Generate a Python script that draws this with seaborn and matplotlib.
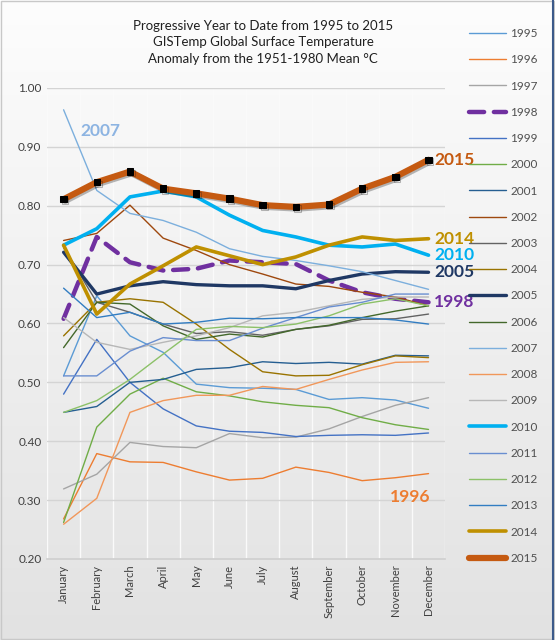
import numpy as np
import pandas as pd
import matplotlib
matplotlib.use("Agg")
import matplotlib.pyplot as plt
import matplotlib.patheffects as pe
from matplotlib.colors import LinearSegmentedColormap
from matplotlib.lines import Line2D
import seaborn as sns

# Year-to-date mean anomaly (deg C)
months = ['January', 'February', 'March', 'April', 'May', 'June', 'July',
          'August', 'September', 'October', 'November', 'December']

y1995 = [0.511, 0.647, 0.579, 0.551, 0.497, 0.491, 0.490, 0.488, 0.471, 0.474, 0.470, 0.456]
y1996 = [0.268, 0.379, 0.365, 0.364, 0.348, 0.334, 0.337, 0.356, 0.347, 0.333, 0.338, 0.345]
y1997 = [0.319, 0.344, 0.398, 0.391, 0.389, 0.413, 0.406, 0.407, 0.421, 0.442, 0.461, 0.474]
y1998 = [0.608, 0.747, 0.704, 0.690, 0.693, 0.707, 0.704, 0.701, 0.673, 0.653, 0.642, 0.636]
y1999 = [0.480, 0.573, 0.500, 0.455, 0.426, 0.417, 0.415, 0.408, 0.410, 0.411, 0.410, 0.414]
y2000 = [0.262, 0.424, 0.480, 0.507, 0.484, 0.477, 0.467, 0.461, 0.457, 0.440, 0.428, 0.420]
y2001 = [0.449, 0.459, 0.500, 0.505, 0.522, 0.525, 0.535, 0.532, 0.534, 0.531, 0.546, 0.545]
y2002 = [0.741, 0.753, 0.801, 0.745, 0.724, 0.700, 0.684, 0.667, 0.663, 0.653, 0.645, 0.630]
y2003 = [0.729, 0.636, 0.619, 0.599, 0.583, 0.586, 0.580, 0.590, 0.596, 0.607, 0.608, 0.616]
y2004 = [0.579, 0.636, 0.642, 0.636, 0.599, 0.556, 0.518, 0.511, 0.512, 0.530, 0.545, 0.542]
y2005 = [0.721, 0.650, 0.664, 0.671, 0.666, 0.664, 0.664, 0.659, 0.673, 0.684, 0.688, 0.687]
y2006 = [0.559, 0.636, 0.633, 0.596, 0.573, 0.582, 0.577, 0.590, 0.597, 0.610, 0.621, 0.630]
y2007 = [0.963, 0.826, 0.787, 0.775, 0.755, 0.727, 0.714, 0.707, 0.698, 0.688, 0.673, 0.658]
y2008 = [0.259, 0.303, 0.449, 0.469, 0.478, 0.478, 0.493, 0.488, 0.505, 0.521, 0.534, 0.535]
y2009 = [0.610, 0.568, 0.556, 0.568, 0.579, 0.593, 0.613, 0.619, 0.630, 0.641, 0.645, 0.645]
y2010 = [0.733, 0.761, 0.815, 0.825, 0.815, 0.784, 0.758, 0.747, 0.733, 0.730, 0.735, 0.716]
y2011 = [0.511, 0.511, 0.553, 0.576, 0.571, 0.571, 0.592, 0.610, 0.628, 0.636, 0.650, 0.650]
y2012 = [0.449, 0.469, 0.505, 0.548, 0.590, 0.595, 0.593, 0.599, 0.613, 0.633, 0.642, 0.630]
y2013 = [0.660, 0.610, 0.619, 0.599, 0.602, 0.609, 0.608, 0.610, 0.610, 0.610, 0.606, 0.599]
y2014 = [0.733, 0.616, 0.667, 0.698, 0.730, 0.715, 0.700, 0.713, 0.733, 0.747, 0.741, 0.744]
y2015 = [0.811, 0.840, 0.858, 0.829, 0.821, 0.812, 0.801, 0.798, 0.802, 0.829, 0.849, 0.878]

years = list(range(1995, 2016))
series = [y1995, y1996, y1997, y1998, y1999, y2000, y2001, y2002, y2003, y2004, y2005,
          y2006, y2007, y2008, y2009, y2010, y2011, y2012, y2013, y2014, y2015]

colors = ['#5B9BD5', '#ED7D31', '#A5A5A5', '#7030A0', '#4472C4', '#70AD47', '#255E91',
          '#9E480E', '#636363', '#997300', '#1F3864', '#43682B', '#7CAFDD', '#F1975A',
          '#B7B7B7', '#00B0F0', '#698ED0', '#8CC168', '#327DC2', '#BF9000', '#C55A11']

# line widths (pt) - a few years are highlighted
widths = {1998: 3.2, 2005: 2.4, 2010: 2.6, 2014: 2.6, 2015: 4.5}
dash_1998 = (3.4, 2.2)

rows = []
for yr, vals in zip(years, series):
    for i, v in enumerate(vals):
        rows.append({'year': yr, 'pos': i, 'value': v})
df = pd.DataFrame(rows)

sns.set_theme(style="white")
plt.rcParams['font.family'] = ['Lato', 'DejaVu Sans']

fig = plt.figure(figsize=(5.55, 6.4), dpi=100)

# soft vertical gradient background like the Excel chart area
bg = fig.add_axes([0, 0, 1, 1], zorder=-10)
grad = np.linspace(0, 1, 256).reshape(-1, 1)
cmap = LinearSegmentedColormap.from_list('bg', ['#FDFDFD', '#E2E2E2'])
bg.imshow(grad, aspect='auto', cmap=cmap, extent=[0, 1, 0, 1])
bg.axis('off')

ax = fig.add_axes([0.0847, 0.1266, 0.7173, 0.7359])
ax.set_facecolor('none')

for yr, col in zip(years, colors):
    sub = df[df['year'] == yr]
    lw = widths.get(yr, 1.0)
    kw = {}
    if yr == 1998:
        kw = dict(dashes=dash_1998, dash_capstyle='round')
    if yr == 2015:
        kw = dict(marker='s', markersize=4.6, markerfacecolor='black',
                  markeredgecolor='black',
                  path_effects=[pe.SimpleLineShadow(offset=(1.2, -1.2), alpha=0.3), pe.Normal()])
    sns.lineplot(data=sub, x='pos', y='value', ax=ax, color=col, linewidth=lw,
                 legend=False, **kw)

ax.set_xlim(-0.5, 11.5)
ax.set_ylim(0.2, 1.0)
ax.set_xticks(range(12))
ax.set_xticklabels(months, rotation=90, fontsize=8, color='#404040')
ax.set_xticks(np.arange(-0.5, 12, 0.5), minor=True)
ax.set_yticks(np.arange(0.2, 1.01, 0.1))
ax.set_yticklabels([f'{v:.2f}' for v in np.arange(0.2, 1.01, 0.1)], fontsize=8.5, color='#404040')
ax.tick_params(axis='both', which='both', length=0, pad=4)
ax.set_xlabel('')
ax.set_ylabel('')
ax.grid(axis='x', which='minor', color='#FAFAFA', linewidth=1.0)
ax.grid(axis='y', which='major', color='#D4D4D4', linewidth=1.0)
ax.set_axisbelow(True)
for s in ['top', 'right', 'left']:
    ax.spines[s].set_visible(False)
ax.spines['bottom'].set_color('#D0D0D0')

# year labels at the end of highlighted lines
end_labels = {2015: '#C55A11', 2014: '#BF9000', 2010: '#00B0F0', 2005: '#1F3864', 1998: '#7030A0'}
for yr, col in end_labels.items():
    vals = series[years.index(yr)]
    ax.annotate(str(yr), xy=(11, vals[-1]), xytext=(4, 0), textcoords='offset points',
                va='center', ha='left', fontsize=12.5, fontweight='bold', color=col,
                annotation_clip=False)
ax.text(1.1, 0.927, '2007', fontsize=12.5, fontweight='bold', color='#8DB4E2',
        ha='center', va='center')
ax.text(10.44, 0.305, '1996', fontsize=12.5, fontweight='bold', color='#ED7D31',
        ha='center', va='center')

fig.text(0.474, 0.934, 'Progressive Year to Date from 1995 to 2015\n'
         'GISTemp Global Surface Temperature\n'
         'Anomaly from the 1951-1980 Mean °C',
         ha='center', va='center', fontsize=9.5, color='#202020', linespacing=1.45)

handles = []
for yr, col in zip(years, colors):
    lw = widths.get(yr, 1.0)
    if yr == 1998:
        h = Line2D([], [], color=col, linewidth=lw, dashes=dash_1998, dash_capstyle='round')
    else:
        h = Line2D([], [], color=col, linewidth=lw)
    handles.append(h)
fig.legend(handles, [str(y) for y in years], loc='upper left',
           bbox_to_anchor=(0.845, 0.956), frameon=False, fontsize=8.5,
           handlelength=3.1, handletextpad=0.4, labelspacing=1.29,
           borderpad=0, borderaxespad=0, labelcolor='#505050')

# chart border
fig.add_artist(plt.Rectangle((0.001, 0.001), 0.997, 0.997, transform=fig.transFigure,
                             fill=False, edgecolor='#C8C8C8', linewidth=1.0))
fig.add_artist(Line2D([0.997, 0.997], [0, 1], transform=fig.transFigure,
                      color='#3C5A8A', linewidth=1.5))

fig.savefig('out.png', dpi=100)
